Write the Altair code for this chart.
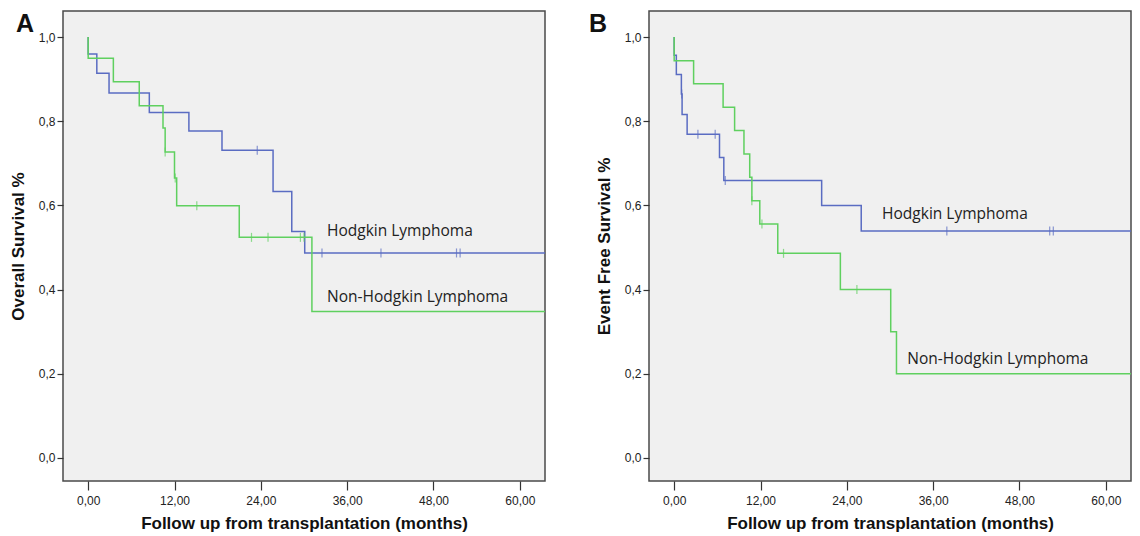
import altair as alt
import pandas as pd

# ---------------- data ----------------
groups = ["Hodgkin Lymphoma", "Non-Hodgkin Lymphoma"]
colors = ["#5a6cc2", "#5fd05f"]

# Panel A: Overall survival
a_hl_t = [0, 0, 1.2, 2.9, 8.5, 14.0, 18.6, 25.7, 28.3, 30.1, 63.5]
a_hl_s = [1.0, 0.960, 0.914, 0.867, 0.821, 0.777, 0.731, 0.633, 0.538, 0.487, 0.487]
a_hl_cens_t = [23.5, 32.5, 40.7, 51.2, 51.7]
a_hl_cens_s = [0.731, 0.487, 0.487, 0.487, 0.487]

a_nhl_t = [0, 0, 3.5, 7.1, 10.4, 10.7, 12.0, 12.3, 21.0, 31.1, 63.5]
a_nhl_s = [1.0, 0.950, 0.894, 0.837, 0.784, 0.727, 0.665, 0.599, 0.524, 0.348, 0.348]
a_nhl_cens_t = [10.7, 12.1, 15.1, 22.7, 25.0, 29.5, 30.0]
a_nhl_cens_s = [0.727, 0.665, 0.599, 0.524, 0.524, 0.524, 0.524]

# Panel B: Event free survival
b_hl_t = [0, 0, 0.3, 1.0, 1.1, 1.8, 6.3, 6.9, 20.5, 26.0, 63.5]
b_hl_s = [1.0, 0.957, 0.911, 0.865, 0.816, 0.769, 0.714, 0.659, 0.600, 0.539, 0.539]
b_hl_cens_t = [1.05, 3.3, 5.7, 7.1, 37.9, 52.2, 52.7]
b_hl_cens_s = [0.865, 0.769, 0.769, 0.659, 0.539, 0.539, 0.539]

b_nhl_t = [0, 0, 2.7, 6.8, 8.4, 9.7, 10.5, 10.8, 11.9, 14.4, 23.1, 30.1, 30.9, 63.5]
b_nhl_s = [1.0, 0.944, 0.889, 0.833, 0.778, 0.722, 0.667, 0.611, 0.556, 0.486, 0.400, 0.300, 0.200, 0.200]
b_nhl_cens_t = [10.8, 12.2, 15.2, 25.4]
b_nhl_cens_s = [0.611, 0.556, 0.486, 0.400]

x_ticks = [0, 12, 24, 36, 48, 60]
y_ticks = [0.0, 0.2, 0.4, 0.6, 0.8, 1.0]

a_label_t = [33.2, 33.2]
a_label_s = [0.538, 0.383]
b_label_t = [28.9, 32.4]
b_label_s = [0.579, 0.234]

x_title = "Follow up from transplantation (months)"

# ---------------- helpers ----------------
X_DOMAIN = [-3.5, 63.5]
Y_DOMAIN = [-0.055, 1.062]
W, H = 482, 470


def steps(hl_t, hl_s, nhl_t, nhl_s):
    rows = []
    for g, ts, ss in [(groups[0], hl_t, hl_s), (groups[1], nhl_t, nhl_s)]:
        for i, (t, s) in enumerate(zip(ts, ss)):
            rows.append({"g": g, "t": t, "s": s, "i": i})
    return pd.DataFrame(rows)


def cens(hl_t, hl_s, nhl_t, nhl_s):
    rows = []
    for g, ts, ss in [(groups[0], hl_t, hl_s), (groups[1], nhl_t, nhl_s)]:
        for t, s in zip(ts, ss):
            rows.append({"g": g, "t": t, "s": s})
    return pd.DataFrame(rows)


def labels(ts, ss):
    return pd.DataFrame({"g": groups, "t": ts, "s": ss})


color = alt.Color("g:N", scale=alt.Scale(domain=groups, range=colors), legend=None)


def panel(line_df, cens_df, lab_df, ytitle, letter, letter_x):
    xs = alt.X(
        "t:Q",
        scale=alt.Scale(domain=X_DOMAIN, nice=False, zero=False),
        axis=alt.Axis(
            values=x_ticks,
            labelExpr="replace(format(datum.value, '.2f'), '.', ',')",
            title=x_title,
            tickSize=9,
            labelPadding=5,
            titlePadding=9,
            domain=False,
            grid=False,
        ),
    )
    ys = alt.Y(
        "s:Q",
        scale=alt.Scale(domain=Y_DOMAIN, nice=False, zero=False),
        axis=alt.Axis(
            values=y_ticks,
            labelExpr="replace(format(datum.value, '.1f'), '.', ',')",
            title=ytitle,
            tickSize=6,
            labelPadding=2,
            titlePadding=11,
            domain=False,
            grid=False,
        ),
    )
    lines = alt.Chart(line_df).mark_line(
        interpolate="step-after", strokeWidth=1.5, clip=True
    ).encode(x=xs, y=ys, color=color, order="i:Q", detail="g:N")
    ticks = alt.Chart(cens_df).mark_tick(
        orient="vertical", size=9, thickness=1.2
    ).encode(x="t:Q", y="s:Q", color=color)
    texts = alt.Chart(lab_df).mark_text(
        align="left", baseline="middle", font="Open Sans", fontSize=15.5, color="#222222"
    ).encode(x="t:Q", y="s:Q", text="g:N")
    let = alt.Chart(pd.DataFrame({"l": [letter]})).mark_text(
        align="center", baseline="middle", font="Liberation Sans", fontSize=25,
        fontWeight="bold", color="#111111"
    ).encode(x=alt.value(letter_x), y=alt.value(13), text="l:N")
    return alt.layer(lines, ticks, texts, let).properties(width=W, height=H)


pa = panel(
    steps(a_hl_t, a_hl_s, a_nhl_t, a_nhl_s),
    cens(a_hl_cens_t, a_hl_cens_s, a_nhl_cens_t, a_nhl_cens_s),
    labels(a_label_t, a_label_s),
    "Overall Survival %",
    "A",
    -38,
)
pb = panel(
    steps(b_hl_t, b_hl_s, b_nhl_t, b_nhl_s),
    cens(b_hl_cens_t, b_hl_cens_s, b_nhl_cens_t, b_nhl_cens_s),
    labels(b_label_t, b_label_s),
    "Event Free Survival %",
    "B",
    -51,
)

chart = (
    alt.hconcat(pa, pb, spacing=42)
    .properties(
        padding={"left": 0, "top": 2, "right": 0, "bottom": 0},
        background="white",
    )
    .configure_view(fill="#f0f0f0", stroke="#4a4a4a", strokeWidth=1.5)
    .configure_axis(
        labelFont="Liberation Sans",
        labelFontSize=12,
        labelColor="#222222",
        titleFont="Liberation Sans",
        titleFontSize=17,
        titleFontWeight="bold",
        titleColor="#111111",
        tickColor="#333333",
        tickWidth=1.2,
    )
)

chart.save("out.html", embed_options={"renderer": "svg", "actions": False})
